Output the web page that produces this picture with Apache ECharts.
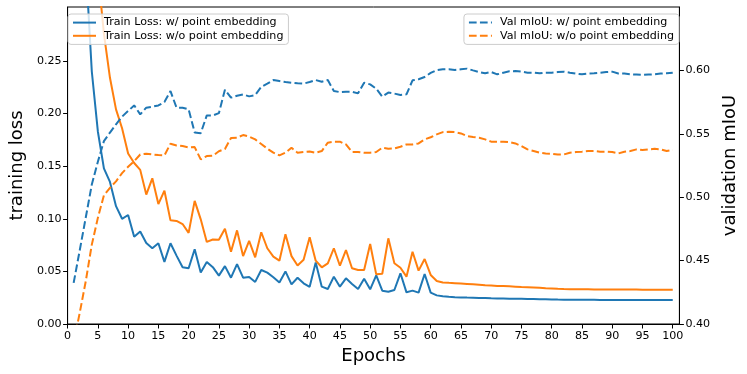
<!DOCTYPE html>
<html>
<head>
<meta charset="utf-8">
<title>training loss / validation mIoU</title>
<script src="https://cdn.jsdelivr.net/npm/echarts@6/dist/echarts.min.js"></script>
<style>
  html, body { margin: 0; padding: 0; background: #fff; }
  #chart { width: 747px; height: 374px; }
</style>
</head>
<body>
<div id="chart"></div>
<script>
// values, epochs 1..100
const epochs = Array.from({ length: 100 }, (_, i) => i + 1);

const trainLossW = [
  0.62, 0.45, 0.342, 0.240, 0.183, 0.148, 0.135, 0.112, 0.100, 0.1036,
  0.083, 0.088, 0.077, 0.072, 0.0767, 0.059, 0.0767, 0.065, 0.054, 0.053,
  0.071, 0.049, 0.059, 0.054, 0.046, 0.055, 0.044, 0.057, 0.044, 0.0447,
  0.040, 0.0513, 0.0488, 0.0444, 0.0395, 0.050, 0.0377, 0.044, 0.0387, 0.0353,
  0.0585, 0.0355, 0.0333, 0.045, 0.0355, 0.0434, 0.038, 0.0333, 0.0431, 0.033,
  0.0463, 0.0317, 0.0307, 0.0323, 0.0482, 0.0301, 0.0317, 0.0298, 0.0475, 0.0298,
  0.0272, 0.0263, 0.0258, 0.0255, 0.0253, 0.0251, 0.0250, 0.0248, 0.0246, 0.0244,
  0.0243, 0.0242, 0.0241, 0.0240, 0.0239, 0.0238, 0.0237, 0.0236, 0.0235, 0.0234,
  0.0232, 0.0231, 0.0231, 0.0231, 0.0230, 0.0230, 0.0230, 0.0229, 0.0229, 0.0229,
  0.0229, 0.0228, 0.0228, 0.0228, 0.0228, 0.0227, 0.0227, 0.0227, 0.0227, 0.0227
];

const trainLossWo = [
  0.80, 0.65, 0.52, 0.42, 0.335, 0.276, 0.234, 0.204, 0.186, 0.162,
  0.153, 0.1465, 0.123, 0.1385, 0.114, 0.1267, 0.0985, 0.098, 0.095, 0.0866,
  0.117, 0.0995, 0.078, 0.0803, 0.080, 0.0905, 0.0687, 0.089, 0.0646, 0.079,
  0.0634, 0.0872, 0.072, 0.064, 0.0602, 0.0853, 0.0645, 0.0556, 0.061, 0.0824,
  0.0602, 0.0539, 0.0577, 0.072, 0.0554, 0.0703, 0.053, 0.0513, 0.0513, 0.076,
  0.0472, 0.0478, 0.0814, 0.0577, 0.0535, 0.045, 0.0687, 0.0507, 0.0618, 0.0466,
  0.0409, 0.0395, 0.0391, 0.0388, 0.0385, 0.0381, 0.0377, 0.0373, 0.0368, 0.0365,
  0.0362, 0.0360, 0.0358, 0.0355, 0.0352, 0.0350, 0.0347, 0.0344, 0.0340, 0.0337,
  0.0334, 0.0332, 0.0331, 0.0330, 0.0330, 0.0330, 0.0329, 0.0329, 0.0329, 0.0329,
  0.0328, 0.0328, 0.0327, 0.0327, 0.0326, 0.0326, 0.0325, 0.0326, 0.0326, 0.0326
];

const valMiouW = [
  0.4324, 0.458, 0.484, 0.510, 0.528, 0.5442, 0.551, 0.5574, 0.5635, 0.568,
  0.5724, 0.5653, 0.5706, 0.5714, 0.5724, 0.575, 0.5837, 0.5706, 0.5706, 0.5693,
  0.551, 0.5505, 0.5645, 0.5645, 0.5663, 0.5848, 0.5785, 0.580, 0.5811, 0.5795,
  0.5805, 0.587, 0.5895, 0.5924, 0.5916, 0.5908, 0.5903, 0.5898, 0.5896, 0.5908,
  0.5924, 0.5911, 0.5924, 0.5837, 0.5829, 0.5832, 0.5832, 0.5819, 0.5903, 0.589,
  0.5856, 0.5793, 0.5825, 0.5817, 0.5806, 0.5811, 0.5922, 0.593, 0.5948, 0.598,
  0.6003, 0.6009, 0.6009, 0.6003, 0.6009, 0.6014, 0.600, 0.5987, 0.5977, 0.5987,
  0.5969, 0.5982, 0.5993, 0.5995, 0.599, 0.5982, 0.5982, 0.5977, 0.5982, 0.5982,
  0.5987, 0.599, 0.5982, 0.5975, 0.5969, 0.5975, 0.5977, 0.5982, 0.5987, 0.599,
  0.5975, 0.5975, 0.5969, 0.5967, 0.5964, 0.5967, 0.5969, 0.5975, 0.5977, 0.5982
];

const valMiouWo = [
  0.385, 0.4087, 0.4337, 0.4626, 0.4837, 0.5015, 0.5074, 0.5125, 0.519, 0.524,
  0.5284, 0.5337, 0.5343, 0.5337, 0.5332, 0.533, 0.5422, 0.5408, 0.5403, 0.5393,
  0.5395, 0.5298, 0.5324, 0.5327, 0.5362, 0.538, 0.5467, 0.5469, 0.549, 0.5478,
  0.5456, 0.542, 0.5383, 0.5351, 0.533, 0.5351, 0.539, 0.5351, 0.5356, 0.536,
  0.5351, 0.5364, 0.543, 0.5438, 0.5438, 0.5416, 0.5356, 0.5356, 0.5351, 0.5351,
  0.5356, 0.539, 0.5382, 0.5385, 0.5398, 0.5416, 0.5416, 0.5424, 0.5456, 0.5473,
  0.5495, 0.5513, 0.5516, 0.5513, 0.5503, 0.5482, 0.5474, 0.5469, 0.5456, 0.5438,
  0.5438, 0.5438, 0.5435, 0.5424, 0.5403, 0.5377, 0.5364, 0.5351, 0.5345, 0.5343,
  0.5337, 0.5337, 0.5351, 0.5356, 0.5359, 0.5364, 0.5364, 0.5359, 0.5359, 0.5356,
  0.5345, 0.5359, 0.5364, 0.5377, 0.5372, 0.5377, 0.5382, 0.5377, 0.5364, 0.5372
];

// tick labels
const epochTicks = [0, 5, 10, 15, 20, 25, 30, 35, 40, 45, 50, 55, 60, 65, 70, 75, 80, 85, 90, 95, 100];
const lossTicks = [0, 0.05, 0.10, 0.15, 0.20, 0.25];
const miouTicks = [0.40, 0.45, 0.50, 0.55, 0.60];

const BLUE = '#1f77b4';
const ORANGE = '#ff7f0e';
const FONT = 'DejaVu Sans';
const DASH = [7.7, 3.3];

const pairs = (vals) => epochs.map((e, i) => [e, vals[i]]);

const chart = echarts.init(document.getElementById('chart'), null, { renderer: 'canvas' });

const axisBase = {
  axisLine: { show: true, lineStyle: { color: '#000', width: 1 } },
  axisTick: { show: true, inside: false, length: 4.5, lineStyle: { color: '#000', width: 1 } },
  splitLine: { show: false },
  nameTextStyle: { fontFamily: FONT, fontSize: 18, color: '#000' }
};
const labelBase = { fontFamily: FONT, fontSize: 11.1, color: '#000', margin: 6 };

const legendBase = {
  orient: 'vertical',
  top: 14,
  padding: [3, 5, 3, 4],
  itemWidth: 23,
  itemHeight: 14,
  itemGap: 2,
  backgroundColor: 'rgba(255,255,255,0.8)',
  borderColor: '#cccccc',
  borderWidth: 1,
  borderRadius: 3,
  // only the line sample, no marker
  itemStyle: { color: 'transparent', opacity: 0, borderWidth: 0 },
  textStyle: { fontFamily: FONT, fontSize: 11.1, color: '#000', padding: [0, 0, 0, 3] }
};

const option = {
  animation: false,
  backgroundColor: '#fff',
  grid: {
    left: 62, right: 62, top: 7, bottom: 50,
    show: true, borderColor: '#000', borderWidth: 1, backgroundColor: 'transparent'
  },
  legend: [
    Object.assign({}, legendBase, {
      left: 68,
      data: ['Train Loss: w/ point embedding', 'Train Loss: w/o point embedding']
    }),
    Object.assign({}, legendBase, {
      right: 68,
      data: ['Val mIoU: w/ point embedding', 'Val mIoU: w/o point embedding']
    })
  ],
  xAxis: Object.assign({}, axisBase, {
    type: 'value',
    min: 0,
    max: 101.1,
    name: 'Epochs',
    nameLocation: 'middle',
    nameGap: 21,
    axisTick: Object.assign({}, axisBase.axisTick, { customValues: epochTicks }),
    axisLabel: Object.assign({}, labelBase, { margin: 7, customValues: epochTicks, formatter: (v) => String(v) })
  }),
  yAxis: [
    Object.assign({}, axisBase, {
      type: 'value',
      min: 0,
      max: 0.3013,
      name: 'training loss',
      nameLocation: 'middle',
      nameGap: 38,
      axisTick: Object.assign({}, axisBase.axisTick, { customValues: lossTicks }),
      axisLabel: Object.assign({}, labelBase, { customValues: lossTicks, formatter: (v) => v.toFixed(2) })
    }),
    Object.assign({}, axisBase, {
      type: 'value',
      position: 'right',
      min: 0.40,
      max: 0.65,
      name: 'validation mIoU',
      nameLocation: 'middle',
      nameGap: 40,
      nameRotate: 90,
      axisTick: Object.assign({}, axisBase.axisTick, { customValues: miouTicks }),
      axisLabel: Object.assign({}, labelBase, { customValues: miouTicks, formatter: (v) => v.toFixed(2) })
    })
  ],
  series: [
    {
      name: 'Train Loss: w/ point embedding', type: 'line', yAxisIndex: 0,
      data: pairs(trainLossW), showSymbol: false, symbol: 'none', clip: true,
      lineStyle: { color: BLUE, width: 2 }, itemStyle: { color: BLUE }
    },
    {
      name: 'Train Loss: w/o point embedding', type: 'line', yAxisIndex: 0,
      data: pairs(trainLossWo), showSymbol: false, symbol: 'none', clip: true,
      lineStyle: { color: ORANGE, width: 2 }, itemStyle: { color: ORANGE }
    },
    {
      name: 'Val mIoU: w/ point embedding', type: 'line', yAxisIndex: 1,
      data: pairs(valMiouW), showSymbol: false, symbol: 'none', clip: true,
      lineStyle: { color: BLUE, width: 2, type: DASH }, itemStyle: { color: BLUE }
    },
    {
      name: 'Val mIoU: w/o point embedding', type: 'line', yAxisIndex: 1,
      data: pairs(valMiouWo), showSymbol: false, symbol: 'none', clip: true,
      lineStyle: { color: ORANGE, width: 2, type: DASH }, itemStyle: { color: ORANGE }
    }
  ]
};

chart.setOption(option);
</script>
</body>
</html>
